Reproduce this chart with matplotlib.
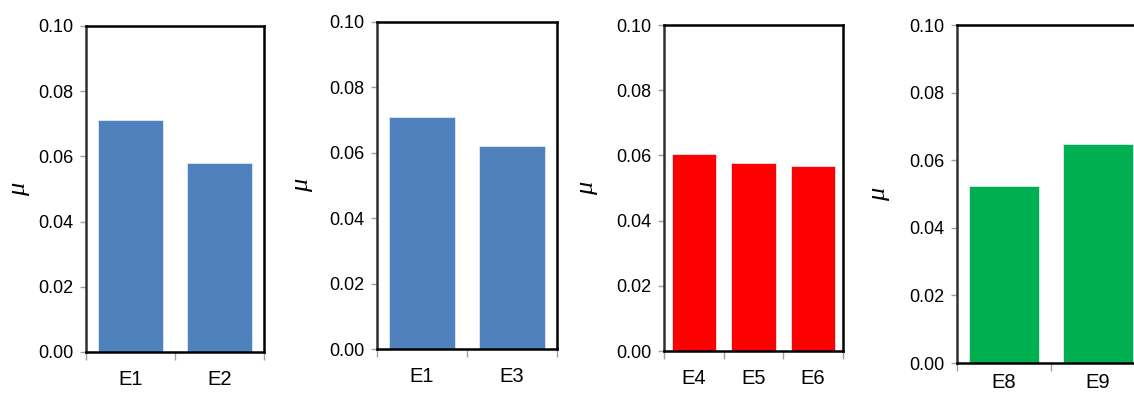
import numpy as np
import matplotlib
matplotlib.use("Agg")
import matplotlib.pyplot as plt
from matplotlib.ticker import MultipleLocator, FixedLocator

plt.rcParams['font.family'] = ['Liberation Sans', 'DejaVu Sans']

# data
labels1 = ['E1', 'E2']
mu1 = [0.0712, 0.0580]
labels2 = ['E1', 'E3']
mu2 = [0.0710, 0.0621]
labels3 = ['E4', 'E5', 'E6']
mu3 = [0.0604, 0.0577, 0.0567]
labels4 = ['E8', 'E9']
mu4 = [0.0524, 0.0648]

blue = '#4F81BD'
red = '#FF0000'
green = '#00B050'

W, H = 1134, 398
# axes boxes in pixels: left, top, right, bottom
boxes = [(86, 26, 264, 352), (377, 22, 557, 349), (664, 25, 843, 351), (957, 25, 1145, 363)]
panels = [(labels1, mu1, blue), (labels2, mu2, blue), (labels3, mu3, red), (labels4, mu4, green)]
label_x = [30, 313, 598, 890]
xpads = [13, 13, 13, 7]

fig = plt.figure(figsize=(W / 100, H / 100), dpi=100)

for (l, t, r, b), (labs, vals, col), lx, xp in zip(boxes, panels, label_x, xpads):
    ax = fig.add_axes([l / W, 1 - b / H, (r - l) / W, (b - t) / H])
    x = np.arange(len(labs))
    ax.bar(x, vals, width=0.74, color=col, edgecolor='#dfe8f3', linewidth=0.6, zorder=2)
    ax.set_xlim(-0.5, len(labs) - 0.5)
    ax.set_ylim(0, 0.1)
    ax.yaxis.set_major_locator(MultipleLocator(0.02))
    ax.yaxis.set_major_formatter(plt.FuncFormatter(lambda v, p: '%.2f' % v))
    ax.set_xticks(x)
    ax.set_xticklabels(labs, fontsize=14.5)
    ax.xaxis.set_minor_locator(FixedLocator(np.arange(len(labs) + 1) - 0.5))
    ax.tick_params(axis='x', which='major', length=0, pad=xp)
    ax.tick_params(axis='x', which='minor', length=6, width=1, color='#a0a0a0')
    ax.tick_params(axis='y', length=4, width=1, color='#a0a0a0', labelsize=13, pad=5)
    for s in ax.spines.values():
        s.set_linewidth(1.8)
        s.set_color('black')
    ax.spines['left'].set_color('#303030')
    ax.set_ylabel('μ', fontsize=19, fontstyle='italic', family='Liberation Serif', rotation=90)
    ax.yaxis.set_label_coords((lx - l) / (r - l), 0.5)

fig.savefig('out.png', dpi=100)
